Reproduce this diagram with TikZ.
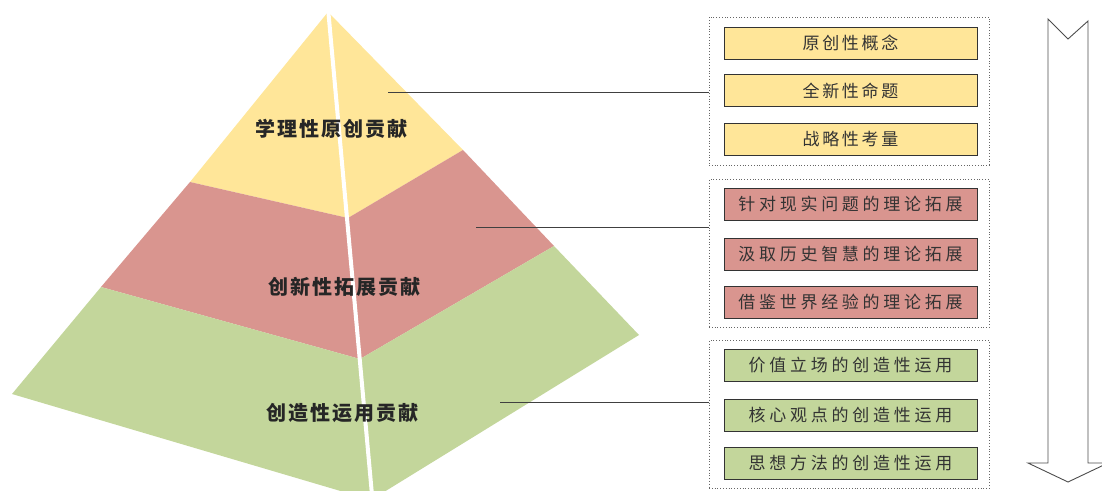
\documentclass[tikz,border=0pt]{standalone}
\usepackage{fontspec}
\newfontfamily\cjk{Noto Sans CJK SC}
\usetikzlibrary{positioning}
\definecolor{pyyellow}{HTML}{FFE699}
\definecolor{pyred}{HTML}{D9958F}
\definecolor{pygreen}{HTML}{C3D69B}
\tikzset{
  item/.style={draw=black!80, line width=0.8pt, fill=#1, minimum width=253pt,
    minimum height=32pt, inner sep=0pt, text=black!80},
  group/.style={draw=black!60, dotted, line width=0.8pt, minimum width=280pt,
    minimum height=148pt, inner sep=0pt},
  level/.style={text=black!85,
    font=\fontsize{20}{20}\selectfont\cjk\bfseries\addfontfeature{LetterSpace=10}},
  link/.style={draw=black!75, line width=0.8pt},
}

\begin{document}
\begin{tikzpicture}[x=1pt, y=-1pt]
  \clip (0,0) rectangle (1102,490);
  % pyramid
  \fill[pyyellow] (328,12) -- (190,182) -- (348,218) -- (463,150) -- cycle;
  \fill[pyred] (190,182) -- (348,218) -- (463,150) -- (554,246) -- (360,359) -- (101,287) -- cycle;
  \fill[pygreen] (101,287) -- (360,359) -- (554,246) -- (639,335) -- (371,500) -- (12,394) -- cycle;
  \draw[white, line width=4pt] (328,8) -- (372,495);
  \node[level] (l1) at (331,129) {学理性原创贡献};
  \node[level] (l2) at (344,287) {创新性拓展贡献};
  \node[level] (l3) at (342,413) {创造性运用贡献};
  \coordinate (p1) at (388,92);
  \coordinate (p2) at (476,227);
  \coordinate (p3) at (500,402);

  \node[group] (g1) at (849,91) {};
  \node[group] (g2) at (849,253.5) {};
  \node[group] (g3) at (849,414.5) {};
  \draw[link] (p1) -- (p1 -| g1.west)
              (p2) -- (p2 -| g2.west)
              (p3) -- (p3 -| g3.west);

  \begin{scope}[font=\fontsize{17}{17}\selectfont\cjk\addfontfeature{LetterSpace=16}]
    \node[item=pyyellow] (a1) at (850.5,43) {原创性概念};
    \node[item=pyyellow] (a2) at (850.5,90.5) {全新性命题};
    \node[item=pyyellow] (a3) at (850.5,139) {战略性考量};
  \end{scope}
  \begin{scope}[font=\fontsize{17}{17}\selectfont\cjk\addfontfeature{LetterSpace=22}]
    \node[item=pyred] (b1) at (850.5,204.5) {针对现实问题的理论拓展};
    \node[item=pyred] (b2) at (850.5,254) {汲取历史智慧的理论拓展};
    \node[item=pyred] (b3) at (850.5,302) {借鉴世界经验的理论拓展};
    \node[item=pygreen] (c1) at (850.5,365.5) {价值立场的创造性运用};
    \node[item=pygreen] (c2) at (850.5,415.5) {核心观点的创造性运用};
    \node[item=pygreen] (c3) at (850.5,463) {思想方法的创造性运用};
  \end{scope}

  % arrow
  \draw[black!70, line width=0.9pt, line join=miter]
    (1048,19) -- (1068,39) -- (1088,21) -- (1088,463) -- (1108,463)
    -- (1068,482) -- (1028,463) -- (1048,463) -- cycle;
\end{tikzpicture}
\end{document}
